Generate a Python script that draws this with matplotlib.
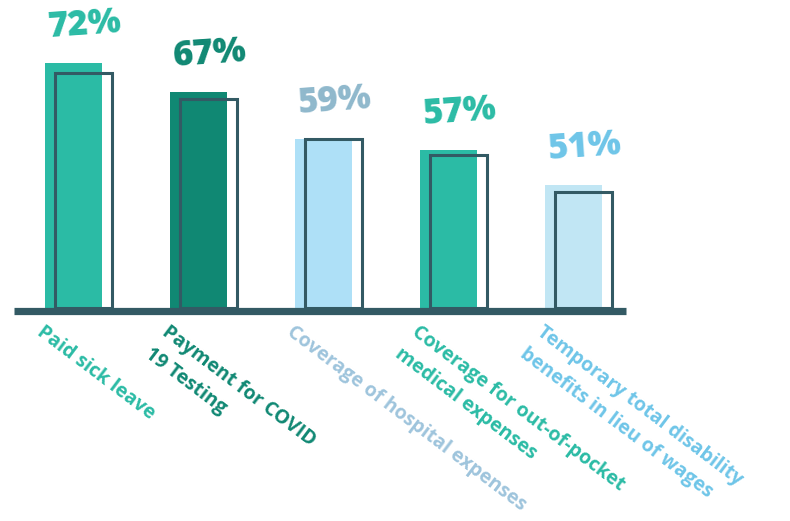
import numpy as np
import matplotlib.pyplot as plt

# data
categories = [
    "Paid sick leave",
    "Payment for COVID\n19 Testing",
    "Coverage of hospital expenses",
    "Coverage for out-of-pocket\nmedical expenses",
    "Temporary total disability\nbenefits in lieu of wages",
]
values = [72, 67, 59, 57, 51]
outline_values = [70.3, 65.8, 58.9, 56.2, 49.8]

# styles
bar_colors = ["#2bbba5", "#108873", "#aee0f7", "#2bbba5", "#c1e6f4"]
value_colors = ["#2bbba5", "#108873", "#8fb8cc", "#2bbba5", "#6ec5e8"]
label_colors = ["#2bbba5", "#108873", "#9ec4dc", "#2bbba5", "#6ec5e8"]
dark = "#335a64"

Y0, Y1 = 29.8, 82.9
BAR_W = 0.456
SHIFT = 0.08

plt.rcParams["font.family"] = ["Open Sans", "DejaVu Sans"]

fig = plt.figure(figsize=(7.9, 5.21), dpi=100)
ax = fig.add_axes([0, 213 / 521, 1, 308 / 521])
ax.set_xlim(-0.588, 5.732)
ax.set_ylim(Y0, Y1)
ax.axis("off")

x = np.arange(len(values))

# filled bars
ax.bar(x, np.array(values) - Y0, bottom=Y0, width=BAR_W,
       color=bar_colors, zorder=1)
# outlined "shadow" bars
ax.bar(x + SHIFT, np.array(outline_values) - Y0, bottom=Y0, width=BAR_W,
       fill=False, edgecolor=dark, linewidth=2.2, zorder=2)

# baseline
ax.hlines(Y0 - 0.6, -0.476, 4.42, color=dark, linewidth=5.2, clip_on=False, zorder=3)

# value labels
for xi, v, c in zip(x, values, value_colors):
    ax.annotate(f"{v}%", xy=(xi, v), xytext=(8, 27), textcoords="offset points",
                ha="center", va="center", fontsize=25, fontweight="heavy",
                color=c, rotation=4)

# category labels
for xi, lab, c in zip(x, categories, label_colors):
    ax.annotate(lab, xy=(xi - BAR_W / 2, Y0), xytext=(0, -10),
                textcoords="offset points", ha="left", va="top",
                rotation=-37, rotation_mode="anchor", fontsize=14,
                fontweight="bold", color=c, linespacing=1.5,
                annotation_clip=False)

fig.savefig("out.png", dpi=100)
